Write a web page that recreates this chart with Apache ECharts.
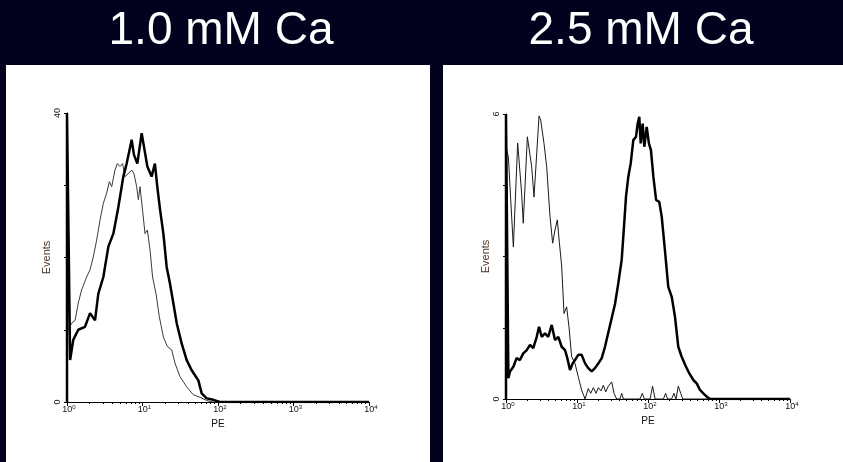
<!DOCTYPE html>
<html>
<head>
<meta charset="utf-8">
<title>PE histograms</title>
<script src="https://cdn.jsdelivr.net/npm/echarts@6/dist/echarts.min.js"></script>
<style>
  html, body { margin: 0; padding: 0; background: #02021f; }
  #chart { width: 843px; height: 462px; }
</style>
</head>
<body>
<div id="chart"></div>
<script>
// panel headings
const panelTitles = ['1.0 mM Ca', '2.5 mM Ca']
// y ranges (Events)
const yMax = [40, 6]
const yStep = [10, 1.5]

// 1.0 mM Ca : [PE, events]
const lowCaThin = [
  [1, 10.8], [1.04, 10.0], [1.15, 10.9], [1.28, 11.3], [1.41, 13.7], [1.56, 15.5], [1.82, 17.3],
  [2.02, 18.3], [2.23, 20.1], [2.47, 22.4], [2.74, 25.2], [3.03, 27.5], [3.35, 28.9], [3.64, 30.5],
  [3.91, 29.8], [4.32, 32.1], [4.64, 33.0], [5.04, 32.6], [5.46, 33.0], [5.86, 31.2], [6.49, 31.6],
  [7.19, 32.1], [7.71, 31.6], [8.37, 29.8], [8.81, 28.0], [9.27, 29.8], [10.0, 26.6], [10.8, 23.3],
  [11.6, 23.8], [12.6, 21.0], [13.6, 17.3], [15.1, 15.0], [16.7, 11.8], [18.9, 9.0], [21.3, 7.7],
  [24.4, 7.2], [26.9, 5.4], [31.4, 3.5], [38.5, 2.1], [47.1, 1.0], [57.8, 0.65], [70.8, 0.2],
  [86.7, 0], [10000, 0]
]
const lowCaThick = [
  [1, 0], [1, 40], [1.06, 40], [1.10, 5.8], [1.21, 8.6], [1.41, 10.0], [1.73, 10.4], [2.02, 12.3],
  [2.35, 11.3], [2.60, 15.0], [3.03, 17.3], [3.53, 21.5], [4.11, 23.3], [4.79, 27.0], [5.57, 31.2],
  [6.17, 33.0], [7.19, 36.3], [7.71, 34.2], [8.54, 33.0], [9.75, 37.2], [11.6, 32.6], [13.2, 31.2],
  [14.6, 33.0], [15.7, 29.8], [17.1, 26.6], [18.9, 23.3], [20.9, 18.7], [23.1, 16.4], [25.6, 13.7],
  [28.4, 10.9], [33.0, 8.1], [38.5, 5.8], [44.8, 4.4], [54.9, 3.0], [60.8, 1.2], [70.8, 0.5],
  [86.7, 0.3], [106, 0], [10000, 0]
]

// 2.5 mM Ca : [PE, events]
const highCaThin = [
  [1, 5.3], [1.08, 5.1], [1.16, 4.25], [1.27, 3.2], [1.46, 5.39], [1.66, 4.33], [1.75, 3.7],
  [2.00, 5.52], [2.30, 4.89], [2.48, 4.25], [2.92, 5.96], [3.08, 5.87], [3.43, 5.38], [3.74, 4.89],
  [4.17, 3.84], [4.54, 3.28], [4.90, 3.56], [5.28, 3.77], [5.64, 3.3], [6.08, 2.8], [6.56, 1.8],
  [7.15, 1.94], [7.71, 1.52], [8.41, 0.89], [9.37, 0.75], [10.4, 0.47], [11.6, 0.19], [13.0, 0],
  [14.4, 0.22], [15.6, 0.12], [17.0, 0.24], [18.5, 0.12], [20.0, 0.24], [21.8, 0.17], [23.5, 0.29],
  [25.4, 0.15], [27.6, 0.27], [30.8, 0.36], [33.2, 0.12], [36.2, 0], [40.3, 0], [42.6, 0.12],
  [45.0, 0], [77.1, 0], [83.2, 0.12], [88.8, 0], [107, 0], [116, 0.27], [126, 0], [165, 0],
  [177, 0.12], [189, 0], [215, 0], [232, 0.12], [248, 0], [267, 0.27], [289, 0.12], [308, 0],
  [10000, 0]
]
const highCaThick = [
  [1, 0], [1, 6], [1.06, 6], [1.08, 0.44], [1.14, 0.58], [1.27, 0.68], [1.41, 0.86], [1.57, 0.82],
  [1.75, 0.96], [1.96, 1.03], [2.18, 1.14], [2.42, 1.07], [2.71, 1.31], [2.92, 1.52], [3.18, 1.31],
  [3.54, 1.38], [3.94, 1.31], [4.40, 1.56], [4.90, 1.24], [5.46, 1.31], [6.08, 1.10], [6.78, 1.03],
  [7.31, 0.86], [7.97, 0.61], [8.69, 0.75], [9.37, 0.82], [10.4, 0.93], [11.6, 0.93], [13.0, 0.75],
  [14.4, 0.65], [16.1, 0.58], [17.9, 0.65], [20.0, 0.75], [22.3, 0.86], [24.8, 1.1], [27.6, 1.4],
  [30.8, 1.7], [34.3, 2.0], [38.2, 2.44], [42.6, 2.93], [45.9, 3.63], [49.0, 4.26], [52.8, 4.68],
  [57.1, 4.96], [62.1, 5.45], [67.8, 5.52], [71.6, 5.80], [75.4, 5.94], [78.9, 5.38], [84.2, 5.80],
  [88.7, 5.31], [95.9, 5.73], [103, 5.38], [110, 5.24], [119, 4.68], [130, 4.19], [144, 4.15],
  [156, 3.84], [173, 3.14], [193, 2.36], [216, 2.15], [240, 1.73], [267, 1.10], [298, 0.89],
  [343, 0.68], [382, 0.54], [435, 0.40], [485, 0.33], [540, 0.19], [601, 0.12], [671, 0.05],
  [747, 0], [10000, 0]
]

// log minor ticks 2..9 in each decade
const minorTicks = []
for (let d = 0; d < 4; d++) {
  for (let k = 2; k < 10; k++) minorTicks.push(k * Math.pow(10, d))
}

const font = 'Liberation Sans, Arial, sans-serif'
const chart = echarts.init(document.getElementById('chart'))

function mainXAxis (gridIndex) {
  return {
    type: 'log',
    gridIndex: gridIndex,
    position: 'bottom',
    logBase: 10,
    min: 1,
    max: 10000,
    name: 'PE',
    nameLocation: 'middle',
    nameGap: 13,
    nameTextStyle: { color: '#111', fontSize: 10, fontFamily: font },
    splitLine: { show: false },
    axisLine: { lineStyle: { color: '#000', width: 1 } },
    axisTick: { length: 4, lineStyle: { color: '#000' } },
    axisLabel: {
      margin: 2,
      padding: [0, 0, 0, 4],
      color: '#111',
      fontFamily: font,
      formatter: function (v) {
        return '{b|10}{s|' + Math.round(Math.log10(v)) + '}'
      },
      rich: {
        b: { fontSize: 9, lineHeight: 12, fontFamily: font, color: '#111' },
        s: { fontSize: 6, lineHeight: 7, verticalAlign: 'top', fontFamily: font, color: '#111' }
      }
    }
  }
}

// second axis on the same grid, only for the small log ticks
function minorXAxis (gridIndex) {
  return {
    type: 'log',
    gridIndex: gridIndex,
    position: 'bottom',
    logBase: 10,
    min: 1,
    max: 10000,
    splitLine: { show: false },
    axisLine: { show: false },
    axisLabel: { show: false },
    axisTick: { length: 2, customValues: minorTicks, lineStyle: { color: '#000' } }
  }
}

function yAxisFor (i) {
  return {
    type: 'value',
    gridIndex: i,
    min: 0,
    max: yMax[i],
    interval: yStep[i],
    name: 'Events',
    nameLocation: 'middle',
    nameRotate: 90,
    nameGap: 15,
    nameTextStyle: { color: '#4a3328', fontSize: 11, fontFamily: font },
    splitLine: { show: false },
    axisLine: { show: true, lineStyle: { color: '#000', width: 1 } },
    axisTick: { show: true, length: 3, lineStyle: { color: '#000' } },
    axisLabel: {
      rotate: 90,
      margin: 5,
      fontSize: 9,
      color: '#111',
      fontFamily: font,
      formatter: function (v) {
        return (v === 0 || v === yMax[i]) ? String(v) : ''
      }
    }
  }
}

function line (data, xi, yi, width, color) {
  return {
    type: 'line',
    xAxisIndex: xi,
    yAxisIndex: yi,
    data: data,
    showSymbol: false,
    symbol: 'none',
    lineStyle: { width: width, color: color },
    animation: false,
    z: width > 1 ? 3 : 2
  }
}

const option = {
  backgroundColor: '#02021f',
  animation: false,
  graphic: [
    { type: 'rect', z: -10, shape: { x: 6, y: 65, width: 424, height: 397 }, style: { fill: '#fff' } },
    { type: 'rect', z: -10, shape: { x: 443, y: 65, width: 400, height: 397 }, style: { fill: '#fff' } },
    { type: 'text', x: 221, y: 31, style: { text: panelTitles[0], fill: '#fff', font: '46px ' + font, textAlign: 'center', textVerticalAlign: 'middle' } },
    { type: 'text', x: 641, y: 31, style: { text: panelTitles[1], fill: '#fff', font: '46px ' + font, textAlign: 'center', textVerticalAlign: 'middle' } }
  ],
  grid: [
    { left: 67, top: 113, width: 302, height: 289 },
    { left: 506, top: 114, width: 284, height: 285 }
  ],
  xAxis: [mainXAxis(0), mainXAxis(1), minorXAxis(0), minorXAxis(1)],
  yAxis: [yAxisFor(0), yAxisFor(1)],
  series: [
    line(lowCaThin, 0, 0, 1, '#3a3a3a'),
    line(lowCaThick, 0, 0, 2.5, '#000'),
    line(highCaThin, 1, 1, 1, '#1a1a1a'),
    line(highCaThick, 1, 1, 2.5, '#000')
  ]
}

chart.setOption(option)
</script>
</body>
</html>
